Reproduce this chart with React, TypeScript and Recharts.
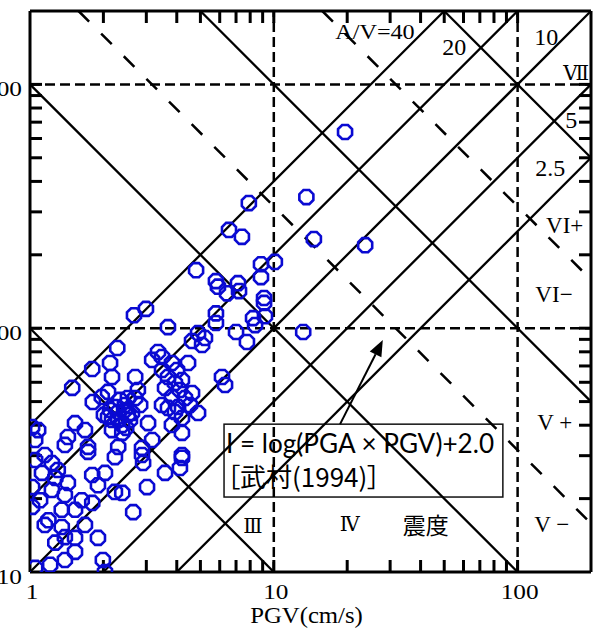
import React from 'react';
import {
  ScatterChart,
  Scatter,
  XAxis,
  YAxis,
  ReferenceLine,
  ReferenceArea,
  ReferenceDot,
} from 'recharts';

// Axis ranges (log-log)
const PGV_MIN = 1;
const PGV_MAX = 200;
const PGA_MIN = 10;
const PGA_MAX = 2000;

// Observed records: peak ground velocity (cm/s) and peak ground acceleration (gal)
const pgvValues = [
  19.6, 13.6, 23.7, 14.6, 7.9, 6.55, 7.4, 10.1, 8.86, 8.86,
  4.8, 5.79, 5.9, 6.43, 7.13, 7.2, 9.12, 9.12, 9.2, 8.22,
  8.38, 5.79, 5.79, 2.99, 2.67, 3.68, 13.2, 7.0, 7.76, 4.89,
  5.22, 4.62, 5.08, 2.28, 3.35, 1.8, 1.49, 2.13, 2.17, 2.7,
  3.17, 3.48, 3.82, 4.45, 3.68, 4.2, 6.13, 6.31, 2.09, 1.97,
  1.81, 2.23, 2.45, 2.7, 2.77, 2.09, 2.3, 2.17, 2.39, 2.62,
  3.05, 3.58, 3.82, 3.68, 4.05, 4.62, 4.89, 4.2, 4.2, 3.17,
  1.02, 1.08, 1.05, 1.53, 1.68, 1.43, 1.39, 1.73, 2.3, 2.88,
  4.2, 3.93, 4.01, 3.48, 1.05, 1.23, 1.12, 1.3, 1.02, 1.23,
  1.02, 1.8, 2.03, 1.9, 2.23, 2.39, 1.63, 1.8, 1.53, 1.35,
  1.19, 1.15, 1.35, 1.39, 1.27, 1.53, 1.68, 1.9, 1.53, 1.39,
  1.21, 1.05, 1.99, 2.03, 2.65, 3.02, 3.58, 4.12, 4.2, 2.91,
  2.88, 2.23, 1.73, 1.43, 2.34, 2.45, 2.52, 2.3, 2.57, 2.39,
  2.13, 2.52, 2.83, 2.17, 2.48, 2.01, 4.32, 3.93, 3.82, 4.53,
  4.12, 3.48, 1.15, 1.27, 1.1, 1.39,
];
const pgaValues = [
  638, 345, 219, 232, 326, 253, 237, 187, 183, 162,
  173, 156, 148, 139, 153, 142, 133, 127, 112, 110,
  103, 115, 105, 120, 113, 101, 96.5, 96.5, 87.8, 95.6,
  91.2, 88.6, 85.3, 82.9, 79.9, 68.0, 56.9, 72.0, 63.1, 63.1,
  74.1, 76.2, 72.0, 72.0, 63.1, 61.3, 63.1, 58.5, 54.8, 52.2,
  49.8, 47.5, 46.2, 51.7, 55.8, 43.2, 42.0, 38.2, 37.2, 44.9,
  40.8, 56.9, 52.2, 47.1, 47.5, 54.2, 44.9, 42.8, 37.2, 34.8,
  39.3, 38.2, 34.8, 40.8, 38.2, 35.8, 33.2, 32.6, 32.6, 32.3,
  30.2, 59.6, 67.4, 67.4, 28.8, 28.0, 25.5, 26.2, 22.3, 21.7,
  18.5, 25.0, 25.5, 22.7, 21.3, 21.1, 19.7, 19.2, 18.0, 18.0,
  16.3, 15.6, 15.3, 13.9, 13.2, 13.8, 15.6, 13.8, 12.1, 11.2,
  10.7, 10.4, 11.2, 10.0, 17.6, 22.3, 25.5, 26.7, 29.4, 28.0,
  30.2, 29.6, 31.1, 23.2, 50.8, 48.4, 44.1, 45.3, 42.0, 40.1,
  46.2, 51.7, 48.4, 42.0, 39.0, 44.1, 51.7, 45.3, 40.1, 48.4,
  55.8, 48.4, 30.2, 24.3, 19.7, 20.7,
];

// Constant A/V ratio lines (PGA = ratio * PGV)
const avRatios = [40, 20, 10, 5, 2.5];
// Constant PGA*PGV lines: solid at whole intensities, dashed at half steps
const intensityProducts = [100, 1000, 10000, 100000];
const halfStepProducts = [10 ** 3.5, 10 ** 4.5];
// Dashed grid
const gridPgv = [10, 100];
const gridPga = [100, 1000];

// Inward tick marks on all four sides
const pgvMinorTicks = [2, 3, 4, 5, 6, 7, 8, 9, 10, 20, 30, 40, 50, 60, 70, 80, 90, 100];
const pgaMinorTicks = [20, 30, 40, 50, 60, 70, 80, 90, 100, 200, 300, 400, 500, 600, 700, 800, 900, 1000];
const pgvTickLabels = [1, 10, 100];
const pgaTickLabels = [10, 100, 1000];

const ratioLabels = [
  { text: 'A/V=40', pgv: 26, pga: 1650 },
  { text: '20', pgv: 55, pga: 1420 },
  { text: '10', pgv: 131, pga: 1560 },
  { text: '5', pgv: 166, pga: 715 },
  { text: '2.5', pgv: 136, pga: 455 },
];
const scaleLabels = [
  { text: 'Ⅶ', pgv: 174, pga: 1110, roman: true },
  { text: 'VI+', pgv: 156, pga: 265, roman: false },
  { text: 'VI−', pgv: 141, pga: 138, roman: false },
  { text: 'V +', pgv: 142, pga: 41, roman: false },
  { text: 'V −', pgv: 138, pga: 15.7, roman: false },
  { text: 'Ⅳ', pgv: 20.5, pga: 15.7, roman: true },
  { text: 'Ⅲ', pgv: 8.2, pga: 15.5, roman: true },
];
const shindoLabel = { text: '震度', pgv: 42, pga: 15.7 };

const formulaText = 'I = log(PGA × PGV)+2.0';
const sourceText = '［武村(1994)］';
const formulaBox = { pgv1: 6.25, pgv2: 87, pga1: 20.3, pga2: 40.4 };
const arrowFrom = { pgv: 18.7, pga: 40.4 };
const arrowTo = { pgv: 28, pga: 89.4 };

const points = pgvValues.map((v, i) => ({ pgv: v, pga: pgaValues[i] }));

const SERIF = "'Liberation Serif', 'Times New Roman', serif";
const ROMAN = "'DejaVu Serif', 'Liberation Serif', serif";
const MARKER = '#0a0ad2';
const TICK_LEN = 12;

const Octagon = (props: any) => {
  const { cx, cy } = props;
  if (cx == null || cy == null) return null;
  const r = 7.6;
  const pts = Array.from({ length: 8 }, (_, i) => {
    const a = Math.PI / 8 + (i * Math.PI) / 4;
    return `${(cx + r * Math.cos(a)).toFixed(2)},${(cy + r * Math.sin(a)).toFixed(2)}`;
  }).join(' ');
  return <polygon points={pts} fill="none" stroke={MARKER} strokeWidth={2.6} />;
};

const StretchText = ({ x, y, size, scaleX = 1, anchor = 'middle', family = SERIF, children }: any) => (
  <text
    transform={`translate(${x},${y}) scale(${scaleX},1)`}
    textAnchor={anchor}
    fontFamily={family}
    fontSize={size}
    fill="#000"
  >
    {children}
  </text>
);

const BottomLabel = (props: any) => {
  const { x, y, payload } = props;
  return (
    <StretchText x={x + 2} y={y + 27} size={22} scaleX={1.15}>
      {String(payload.value)}
    </StretchText>
  );
};

const LeftLabel = (props: any) => {
  const { x, y, payload } = props;
  return (
    <StretchText x={x - 8} y={y + 12} size={22} scaleX={1.15} anchor="end">
      {String(payload.value)}
    </StretchText>
  );
};

// Short inward tick mark anchored at a point on the frame; (dx, dy) is its direction
const tickMark = (dx: number, dy: number) => (props: any) => {
  const { cx, cy } = props;
  if (cx == null || cy == null) return <g />;
  return (
    <line
      x1={cx}
      y1={cy}
      x2={cx + dx * TICK_LEN}
      y2={cy + dy * TICK_LEN}
      stroke="#000"
      strokeWidth={3}
    />
  );
};
const tickUp = tickMark(0, -1);
const tickDown = tickMark(0, 1);
const tickRight = tickMark(1, 0);
const tickLeft = tickMark(-1, 0);

const AxisTitle = (props: any) => {
  const vb = props.viewBox || {};
  const cx = vb.x + vb.width / 2 - 4;
  const cy = vb.y + 51;
  return (
    <StretchText x={cx} y={cy} size={22.5} scaleX={1.1}>
      PGV(cm/s)
    </StretchText>
  );
};

const FormulaBox = (props: any) => {
  const { x, y, width, height } = props;
  return (
    <g>
      <rect x={x} y={y} width={width} height={height} fill="#fff" stroke="#111" strokeWidth={1.5} />
      <text
        x={x + 2}
        y={y + 29}
        fontFamily="Lato, 'Open Sans', sans-serif"
        fontSize={27}
        textLength={268}
        lengthAdjust="spacingAndGlyphs"
        fill="#000"
      >
        {formulaText}
      </text>
      <text
        x={x + 3}
        y={y + 63}
        fontFamily="'Noto Sans CJK JP', sans-serif"
        fontSize={26}
        style={{ fontFeatureSettings: '"palt"' }}
        fill="#000"
      >
        {sourceText}
      </text>
    </g>
  );
};

const Arrow = (props: any) => {
  const { x1, y1, x2, y2 } = props;
  if ([x1, y1, x2, y2].some((v) => v == null)) return null;
  const dx = x2 - x1;
  const dy = y2 - y1;
  const len = Math.hypot(dx, dy);
  const ux = dx / len;
  const uy = dy / len;
  const headLen = 16;
  const halfW = 6.5;
  const bx = x2 - ux * headLen;
  const by = y2 - uy * headLen;
  const head = `${x2},${y2} ${bx - uy * halfW},${by + ux * halfW} ${bx + uy * halfW},${by - ux * halfW}`;
  return (
    <g>
      <line x1={x1} y1={y1} x2={bx} y2={by} stroke="#000" strokeWidth={2} />
      <polygon points={head} fill="#000" />
    </g>
  );
};

const textDot = (text: string, size: number, family: string, scaleX: number) => (props: any) => {
  const { cx, cy } = props;
  return (
    <text
      transform={`translate(${cx},${cy}) scale(${scaleX},1)`}
      textAnchor="middle"
      dominantBaseline="central"
      fontFamily={family}
      fontSize={size}
      fill="#000"
    >
      {text}
    </text>
  );
};

export default function App() {
  return (
    <div style={{ position: 'absolute', left: 0, top: 0, background: '#fff' }}>
      <ScatterChart width={594} height={631} margin={{ top: 11, right: 3, bottom: 0, left: 0 }}>
        <XAxis
          dataKey="pgv"
          type="number"
          scale="log"
          domain={[PGV_MIN, PGV_MAX]}
          allowDataOverflow
          ticks={pgvTickLabels}
          interval={0}
          height={59}
          tickSize={0}
          tickMargin={0}
          tickLine={false}
          tick={<BottomLabel />}
          axisLine={{ stroke: '#000', strokeWidth: 3 }}
          label={<AxisTitle />}
        />
        <YAxis
          dataKey="pga"
          type="number"
          scale="log"
          domain={[PGA_MIN, PGA_MAX]}
          allowDataOverflow
          ticks={pgaTickLabels}
          interval={0}
          width={30}
          tickSize={0}
          tickMargin={0}
          tickLine={false}
          tick={<LeftLabel />}
          axisLine={{ stroke: '#000', strokeWidth: 3 }}
        />

        {/* top and right frame */}
        <ReferenceLine x={PGV_MAX} stroke="#000" strokeWidth={3} ifOverflow="visible" />
        <ReferenceLine y={PGA_MAX} stroke="#000" strokeWidth={3} ifOverflow="visible" />

        {pgvMinorTicks.map((v) => (
          <ReferenceDot key={`tb${v}`} x={v} y={PGA_MIN} ifOverflow="visible" shape={tickUp} />
        ))}
        {pgvMinorTicks.map((v) => (
          <ReferenceDot key={`tt${v}`} x={v} y={PGA_MAX} ifOverflow="visible" shape={tickDown} />
        ))}
        {pgaMinorTicks.map((v) => (
          <ReferenceDot key={`tl${v}`} x={PGV_MIN} y={v} ifOverflow="visible" shape={tickRight} />
        ))}
        {pgaMinorTicks.map((v) => (
          <ReferenceDot key={`tr${v}`} x={PGV_MAX} y={v} ifOverflow="visible" shape={tickLeft} />
        ))}

        {gridPgv.map((v) => (
          <ReferenceLine key={`gx${v}`} x={v} stroke="#000" strokeWidth={2.5} strokeDasharray="10 5" ifOverflow="visible" />
        ))}
        {gridPga.map((v) => (
          <ReferenceLine key={`gy${v}`} y={v} stroke="#000" strokeWidth={2.5} strokeDasharray="10 5" ifOverflow="visible" />
        ))}

        {avRatios.map((r) => {
          const a = Math.max(PGV_MIN, PGA_MIN / r);
          const b = Math.min(PGV_MAX, PGA_MAX / r);
          return (
            <ReferenceLine
              key={`av${r}`}
              segment={[{ x: a, y: a * r }, { x: b, y: b * r }]}
              stroke="#000"
              strokeWidth={2.3}
              ifOverflow="visible"
            />
          );
        })}
        {intensityProducts.map((p) => {
          const a = Math.max(PGV_MIN, p / PGA_MAX);
          const b = Math.min(PGV_MAX, p / PGA_MIN);
          return (
            <ReferenceLine
              key={`ip${p}`}
              segment={[{ x: a, y: p / a }, { x: b, y: p / b }]}
              stroke="#000"
              strokeWidth={2.3}
              ifOverflow="visible"
            />
          );
        })}
        {halfStepProducts.map((p) => {
          const a = Math.max(PGV_MIN, p / PGA_MAX);
          const b = Math.min(PGV_MAX, p / PGA_MIN);
          return (
            <ReferenceLine
              key={`hp${p}`}
              segment={[{ x: a, y: p / a }, { x: b, y: p / b }]}
              stroke="#000"
              strokeWidth={2.5}
              strokeDasharray="15 17"
              ifOverflow="visible"
            />
          );
        })}

        <Scatter data={points} shape={Octagon} isAnimationActive={false} />

        <ReferenceArea
          x1={formulaBox.pgv1}
          x2={formulaBox.pgv2}
          y1={formulaBox.pga1}
          y2={formulaBox.pga2}
          ifOverflow="visible"
          shape={<FormulaBox />}
        />
        <ReferenceLine
          segment={[{ x: arrowFrom.pgv, y: arrowFrom.pga }, { x: arrowTo.pgv, y: arrowTo.pga }]}
          ifOverflow="visible"
          shape={<Arrow />}
        />

        {ratioLabels.map((l) => (
          <ReferenceDot
            key={`rl${l.text}`}
            x={l.pgv}
            y={l.pga}
            ifOverflow="visible"
            shape={textDot(l.text, l.text.length > 3 ? 22 : 24, SERIF, l.text.length > 3 ? 1.1 : 1)}
          />
        ))}
        {scaleLabels.map((l) => (
          <ReferenceDot
            key={`sl${l.text}`}
            x={l.pgv}
            y={l.pga}
            ifOverflow="visible"
            shape={textDot(l.text, l.roman ? 20 : 23, l.roman ? ROMAN : SERIF, 1)}
          />
        ))}
        <ReferenceDot
          x={shindoLabel.pgv}
          y={shindoLabel.pga}
          ifOverflow="visible"
          shape={textDot(shindoLabel.text, 23, "'Noto Sans CJK JP', sans-serif", 1)}
        />
      </ScatterChart>
    </div>
  );
}
